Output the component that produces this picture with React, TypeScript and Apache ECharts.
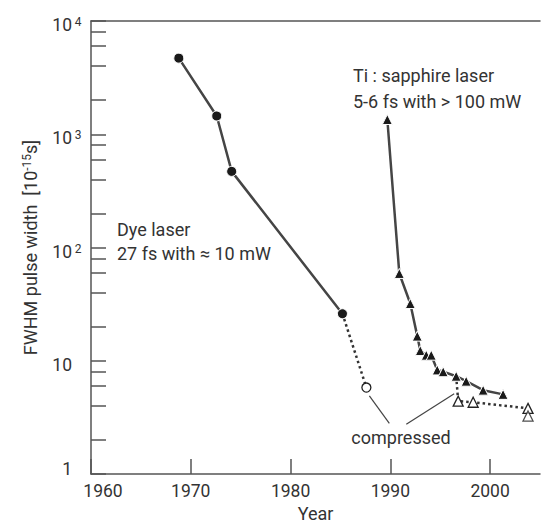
import { useEffect, useRef } from "react";
import * as echarts from "echarts";

const FONT = "Roboto, 'Liberation Sans', sans-serif";

// Dye laser (filled circles, solid line)
const dyeYears = [1968.8, 1972.6, 1974.1, 1985.2];
const dyeWidths = [4700, 1450, 470, 26];
// Dye laser compressed (dotted, open circle)
const dyeCompYears = [1985.2, 1987.6];
const dyeCompWidths = [26, 5.8];
// Ti:sapphire (filled triangles, solid line)
const tiYears = [1989.7, 1990.9, 1992.0, 1992.7, 1993.0, 1993.6, 1994.1, 1994.7, 1995.3, 1996.6, 1997.6, 1999.3, 2001.3];
const tiWidths = [1350, 59, 32, 16.5, 12.3, 11.2, 11.2, 8.3, 8.0, 7.3, 6.6, 5.5, 5.05];
// Ti:sapphire compressed (dotted, open triangles)
const tiCompYears = [1996.6, 1996.8, 1998.3, 2003.8];
const tiCompWidths = [7.3, 4.4, 4.3, 3.8];
const tiExtraYears = [2003.8];
const tiExtraWidths = [3.25];

const xTickValues = [1960, 1970, 1980, 1990, 2000];
const yLabelValues = [1, 10, 100, 1000, 10000];
const yTickValues = [
  1, 2, 4, 6, 8,
  10, 20, 40, 60, 80,
  100, 200, 400, 600, 800,
  1000, 2000, 4000, 6000, 8000,
  10000,
];

// leader lines for "compressed" annotation (year, width)
const leader1 = [[1987.9, 4.9], [1989.9, 2.8]];
const leader2 = [[1991.6, 2.75], [1996.4, 5.1]];

const LINE = "#454545";
const MARK = "#1a1a1a";
const TEXT = "#333";
const FS = 18;
const TFS = 17.5;

export default function App() {
  const ref = useRef<HTMLDivElement>(null);
  useEffect(() => {
    if (!ref.current) return;
    const chart = echarts.init(ref.current, undefined, { renderer: "svg" });
    const pairs = (xs: number[], ys: number[]) => xs.map((x, i) => [x, ys[i]]);
    const dotted = { color: "#333", width: 2.5, type: [2.5, 3] as any, cap: "butt" as const };
    const txt = (x: number, y: number, text: string, align = "left") => ({
      type: "text",
      x,
      y,
      style: { text, fontFamily: FONT, fontSize: FS, fill: TEXT, align, verticalAlign: "middle" },
    });

    chart.setOption({
      animation: false,
      backgroundColor: "#fff",
      grid: { left: 91, top: 21, right: 1, bottom: 50, containLabel: false, outerBoundsMode: "none" },
      xAxis: [
        {
          type: "value",
          min: 1960,
          max: 2005,
          name: "Year",
          nameLocation: "middle",
          nameGap: 28,
          nameTextStyle: { fontFamily: FONT, fontSize: FS, color: TEXT },
          axisLine: { show: true, lineStyle: { color: "#555", width: 1.5 } },
          axisTick: { show: true, inside: true, length: 15, lineStyle: { color: "#555", width: 1.5 }, customValues: xTickValues },
          axisLabel: {
            customValues: xTickValues,
            margin: 8,
            fontFamily: FONT,
            fontSize: TFS,
            color: TEXT,
            formatter: (v: number) => (v === 1960 ? "{first|1960}" : String(v)),
            rich: { first: { fontFamily: FONT, fontSize: TFS, color: TEXT, padding: [0, 0, 0, 24] } },
          },
          splitLine: { show: false },
        },
        {
          type: "value",
          position: "top",
          min: 1960,
          max: 2005,
          axisLine: { show: true, onZero: false, lineStyle: { color: "#555", width: 1.5 } },
          axisTick: { show: false },
          axisLabel: { show: false },
          splitLine: { show: false },
        },
      ],
      yAxis: {
        type: "log",
        logBase: 10,
        min: 1,
        max: 10000,
        name: "FWHM pulse width  [10{sup|-15}s]",
        nameLocation: "middle",
        nameGap: 52,
        nameTextStyle: {
          fontFamily: FONT,
          fontSize: FS,
          color: TEXT,
          rich: { sup: { fontFamily: FONT, fontSize: 12, color: TEXT, verticalAlign: "top", lineHeight: 12 } },
        },
        axisLine: { show: true, onZero: false, lineStyle: { color: "#555", width: 1.5 } },
        axisTick: { show: true, inside: true, length: 15, lineStyle: { color: "#555", width: 1.5 }, customValues: yTickValues },
        axisLabel: {
          customValues: yLabelValues,
          margin: 8,
          color: TEXT,
          fontFamily: FONT,
          formatter: (v: number) => {
            if (v === 1) return "{one|1}{sup| }";
            if (v === 10) return "{base|10}{sup| }";
            const e = Math.round(Math.log10(v));
            return `{base|10}{sup|${e}}`;
          },
          rich: {
            one: { fontFamily: FONT, fontSize: TFS, color: TEXT, lineHeight: 20, padding: [0, 0, 10, 0] },
            base: { fontFamily: FONT, fontSize: TFS, color: TEXT, lineHeight: 20, padding: [8, 0, 0, 0] },
            sup: { fontFamily: FONT, fontSize: 12, color: TEXT, lineHeight: 12, width: 10, align: "left", verticalAlign: "top", padding: [5, 0, 0, 1] },
          },
        },
        splitLine: { show: false },
        minorTick: { show: false },
      },
      series: [
        {
          type: "line",
          name: "Dye compressed",
          data: pairs(dyeCompYears, dyeCompWidths).map((p, i) => (i === 0 ? { value: p, symbol: "none" } : { value: p })),
          symbol: "circle",
          symbolSize: 9,
          itemStyle: { color: "#fff", borderColor: "#222", borderWidth: 1.3 },
          lineStyle: dotted,
          z: 2,
        },
        {
          type: "line",
          name: "Dye laser",
          data: pairs(dyeYears, dyeWidths),
          symbol: "circle",
          symbolSize: 10,
          itemStyle: { color: MARK, borderColor: "#fff", borderWidth: 1 },
          lineStyle: { color: LINE, width: 2.5 },
          z: 3,
        },
        {
          type: "line",
          name: "Ti compressed",
          data: pairs(tiCompYears, tiCompWidths).map((p, i) => (i === 0 ? { value: p, symbol: "none" } : { value: p })),
          symbol: "triangle",
          symbolSize: 10,
          itemStyle: { color: "#fff", borderColor: "#222", borderWidth: 1.3 },
          lineStyle: dotted,
          z: 2,
        },
        {
          type: "scatter",
          name: "Ti compressed 2",
          data: pairs(tiExtraYears, tiExtraWidths),
          symbol: "triangle",
          symbolSize: 10,
          itemStyle: { color: "#fff", borderColor: "#222", borderWidth: 1.3 },
          z: 2,
          markLine: {
            silent: true,
            symbol: ["none", "none"],
            label: { show: false },
            lineStyle: { color: "#444", width: 1.2, type: "solid" },
            data: [
              [{ coord: leader1[0] }, { coord: leader1[1] }],
              [{ coord: leader2[0] }, { coord: leader2[1] }],
            ],
          },
        },
        {
          type: "line",
          name: "Ti:sapphire",
          data: pairs(tiYears, tiWidths),
          symbol: "triangle",
          symbolSize: 10,
          itemStyle: { color: MARK, borderColor: "#fff", borderWidth: 1 },
          lineStyle: { color: LINE, width: 2.5 },
          z: 3,
        },
      ],
      graphic: [
        txt(117, 229, "Dye laser"),
        txt(117, 253, "27 fs with \u2248 10 mW"),
        txt(353, 75, "Ti : sapphire laser"),
        txt(353, 101, "5-6 fs with > 100 mW"),
        txt(401, 437, "compressed", "center"),
      ],
    });
    return () => chart.dispose();
  }, []);
  return <div ref={ref} style={{ position: "absolute", left: 0, top: 0, width: 541, height: 524 }} />;
}
